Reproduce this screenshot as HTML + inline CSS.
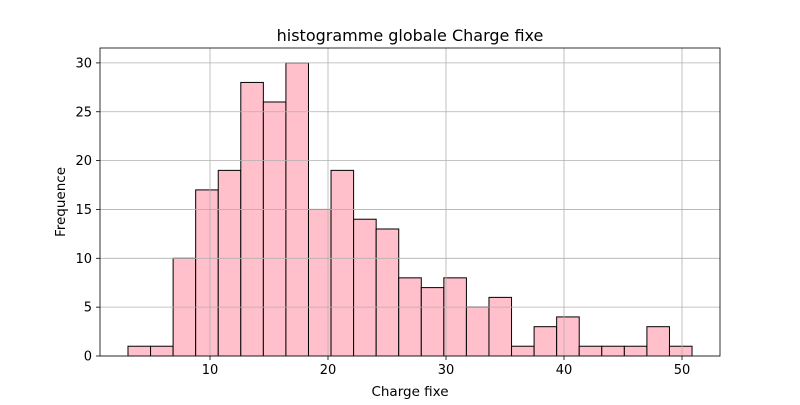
<!DOCTYPE html>
<html><head><meta charset="utf-8"><style>body{margin:0;background:#fff}svg{font-family:"DejaVu Sans","Liberation Sans",sans-serif}</style></head>
<body>
<svg id="chart" width="800" height="400">
<rect width="800" height="400" fill="#fff"/>
<g id="bars"></g><g id="grid"></g><g id="axes"></g>
<text x="410" y="41" text-anchor="middle" font-size="16">histogramme globale Charge fixe</text>
<text x="410" y="396" text-anchor="middle" font-size="13.5">Charge fixe</text>
<text transform="translate(65,202) rotate(-90)" text-anchor="middle" font-size="13.5">Frequence</text>
</svg>
<script>
const counts=[1,1,10,17,19,28,26,30,15,19,14,13,8,7,8,5,6,1,3,4,1,1,1,3,1];
const binStart=3.05, binWidth=1.912;
const xTicks=[10,20,30,40,50];
const yTicks=[0,5,10,15,20,25,30];
const L=100,R=720,T=48,B=356;
const xs=v=>210+(v-10)*11.8;
const ys=v=>B-v*9.77;
const ns="http://www.w3.org/2000/svg";
function mk(t,a,p){const e=document.createElementNS(ns,t);for(const k in a)e.setAttribute(k,a[k]);p.appendChild(e);return e;}
const bars=document.getElementById('bars'),grid=document.getElementById('grid'),axes=document.getElementById('axes');
counts.forEach((c,i)=>{const x0=xs(binStart+i*binWidth),x1=xs(binStart+(i+1)*binWidth);
const r=mk('rect',{x:x0,y:ys(c),width:x1-x0,height:ys(0)-ys(c),fill:'#ffc0cb',stroke:'#000','stroke-width':1},bars);

});
xTicks.forEach(v=>{const x=xs(v);
const g=mk('line',{x1:x,x2:x,y1:T,y2:B,stroke:'#b0b0b0','stroke-width':0.8},grid);


mk('line',{x1:x,x2:x,y1:B,y2:B+4,stroke:'#000','stroke-width':0.8},axes);
const t=mk('text',{x:x,y:B+18,'text-anchor':'middle','font-size':13},axes);t.textContent=v;

});
yTicks.forEach(v=>{const y=ys(v);
const g=mk('line',{x1:L,x2:R,y1:y,y2:y,stroke:'#b0b0b0','stroke-width':0.8},grid);


mk('line',{x1:L-4,x2:L,y1:y,y2:y,stroke:'#000','stroke-width':0.8},axes);
const t=mk('text',{x:L-8,y:y+4.5,'text-anchor':'end','font-size':13},axes);t.textContent=v;

});
const f=mk('rect',{x:L,y:T,width:R-L,height:B-T,fill:'none',stroke:'#000','stroke-width':0.8},axes);


</script>
</body></html>
